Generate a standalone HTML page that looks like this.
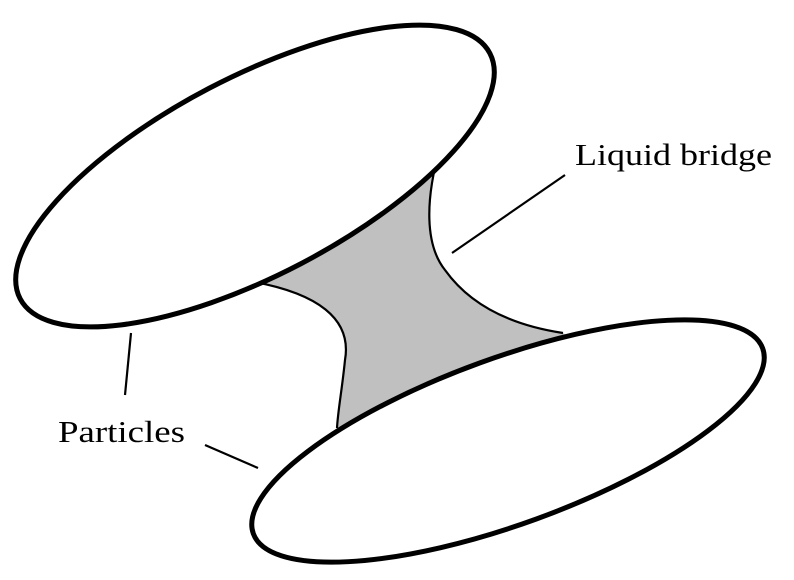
<!DOCTYPE html>
<html><head><meta charset="utf-8"><style>
html,body{margin:0;padding:0;background:#fff;width:794px;height:580px;overflow:hidden;}
svg{display:block;}
text{font-family:"Liberation Serif",serif;font-size:31px;fill:#000;}
</style></head><body>
<svg width="794" height="580" viewBox="0 0 794 580" xmlns="http://www.w3.org/2000/svg">
<path d="M225 295 L455 125 L440 148 C425 200 425 245 445 270 C470 305 510 325 563 333 L590 350 L320 450 L337 428 C338 410 342 390 345 360 C352 320 320 292 243 280 Z" fill="#c0c0c0" stroke="none"/>
<path d="M243 280 C320 292 352 320 345 360 C342 390 338 410 337 428" fill="none" stroke="#000" stroke-width="2.2"/>
<path d="M440 148 C425 200 425 245 445 270 C470 305 510 325 563 333" fill="none" stroke="#000" stroke-width="2.2"/>
<ellipse cx="255" cy="176" rx="265" ry="99" transform="rotate(-27.6 255 176)" fill="#fff" stroke="#000" stroke-width="5"/>
<ellipse cx="508" cy="441" rx="271" ry="83" transform="rotate(-20 508 441)" fill="#fff" stroke="#000" stroke-width="5"/>
<line x1="565" y1="175" x2="452" y2="253" stroke="#000" stroke-width="2.2"/>
<line x1="131" y1="333" x2="125" y2="395" stroke="#000" stroke-width="2.2"/>
<line x1="205" y1="445" x2="258" y2="468" stroke="#000" stroke-width="2.2"/>
<text x="575" y="165" textLength="197" lengthAdjust="spacingAndGlyphs">Liquid bridge</text>
<text x="58" y="442" textLength="127" lengthAdjust="spacingAndGlyphs">Particles</text>
</svg>
</body></html>
